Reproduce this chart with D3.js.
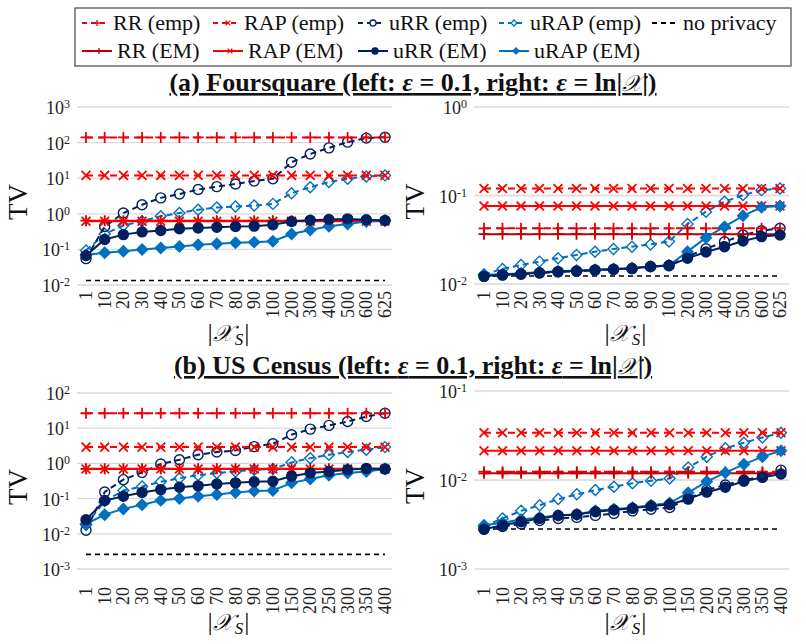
<!DOCTYPE html>
<html><head><meta charset="utf-8">
<script src="https://cdn.jsdelivr.net/npm/d3@7"></script>
<style>body{margin:0;background:#fff}svg{display:block;font-family:"Liberation Serif","DejaVu Serif",serif}</style>
</head><body>
<svg id="c" width="806" height="644"></svg>
<script>
// ---------- data ----------
const catsFS = ["1","10","20","30","40","50","60","70","80","90","100","200","300","400","500","600","625"];
const catsUS = ["1","10","20","30","40","50","60","70","80","90","100","150","200","250","300","350","400"];

// Foursquare, eps = 0.1
const fsL_RR_emp  = [140,140,140,140,140,140,140,140,140,140,140,140,140,140,140,140,140];
const fsL_RAP_emp = [12,12,12,12,12,12,12,12,12,12,12,12,12,12,12,12,12];
const fsL_RR_EM   = [0.64,0.64,0.64,0.64,0.64,0.64,0.64,0.64,0.64,0.64,0.64,0.64,0.64,0.64,0.64,0.64,0.64];
const fsL_RAP_EM  = [0.62,0.62,0.62,0.62,0.62,0.62,0.62,0.62,0.62,0.62,0.62,0.62,0.62,0.62,0.62,0.62,0.62];
const fsL_uRR_emp = [0.055,0.44,1.05,1.8,2.8,3.6,4.8,5.8,6.9,8.3,9.6,28,48,71,103,134,142];
const fsL_uRAP_emp= [0.093,0.27,0.47,0.62,0.86,1.05,1.3,1.5,1.6,1.7,1.9,3.8,5.6,7.8,9.6,11.2,12];
const fsL_uRR_EM  = [0.067,0.19,0.26,0.31,0.34,0.38,0.40,0.42,0.44,0.45,0.49,0.61,0.66,0.69,0.72,0.68,0.65];
const fsL_uRAP_EM = [0.07,0.08,0.089,0.1,0.11,0.12,0.135,0.145,0.154,0.16,0.17,0.27,0.35,0.45,0.52,0.61,0.65];
const fsL_noPriv  = [0.0134,0.0134,0.0134,0.0134,0.0134,0.0134,0.0134,0.0134,0.0134,0.0134,0.0134,0.0134,0.0134,0.0134,0.0134,0.0134,0.0134];

// Foursquare, eps = ln|X|
const fsR_RR_emp  = [0.0426,0.0426,0.0426,0.0426,0.0426,0.0426,0.0426,0.0426,0.0426,0.0426,0.0426,0.0426,0.0426,0.0426,0.0426,0.0426,0.0426];
const fsR_RAP_emp = [0.12,0.12,0.12,0.12,0.12,0.12,0.12,0.12,0.12,0.12,0.12,0.12,0.12,0.12,0.12,0.12,0.12];
const fsR_RR_EM   = [0.0366,0.0366,0.0366,0.0366,0.0366,0.0366,0.0366,0.0366,0.0366,0.0366,0.0366,0.0366,0.0366,0.0366,0.0366,0.0366,0.0366];
const fsR_RAP_EM  = [0.076,0.076,0.076,0.076,0.076,0.076,0.076,0.076,0.076,0.076,0.076,0.076,0.076,0.076,0.076,0.076,0.076];
const fsR_uRR_emp = [0.0122,0.0126,0.0129,0.0133,0.0137,0.0139,0.0143,0.0146,0.0149,0.0157,0.0161,0.0204,0.025,0.030,0.0358,0.040,0.0426];
const fsR_uRAP_emp= [0.0128,0.0148,0.0164,0.0179,0.0195,0.0213,0.0232,0.0248,0.0264,0.028,0.0302,0.0476,0.0656,0.085,0.101,0.115,0.12];
const fsR_uRR_EM  = [0.0122,0.0127,0.013,0.0134,0.0138,0.014,0.0144,0.0147,0.015,0.0158,0.0162,0.0195,0.023,0.0264,0.0306,0.0343,0.0358];
const fsR_uRAP_EM = [0.0127,0.0129,0.0132,0.0136,0.0139,0.0142,0.0145,0.0148,0.0152,0.0158,0.0163,0.0232,0.0334,0.0444,0.0589,0.0735,0.076];
const fsR_noPriv  = [0.0123,0.0123,0.0123,0.0123,0.0123,0.0123,0.0123,0.0123,0.0123,0.0123,0.0123,0.0123,0.0123,0.0123,0.0123,0.0123,0.0123];

// US Census, eps = 0.1
const usL_RR_emp  = [26.6,26.6,26.6,26.6,26.6,26.6,26.6,26.6,26.6,26.6,26.6,26.6,26.6,26.6,26.6,26.6,26.6];
const usL_RAP_emp = [2.9,2.9,2.9,2.9,2.9,2.9,2.9,2.9,2.9,2.9,2.9,2.9,2.9,2.9,2.9,2.9,2.9];
const usL_RR_EM   = [0.70,0.70,0.70,0.70,0.70,0.70,0.70,0.70,0.70,0.70,0.70,0.70,0.70,0.70,0.70,0.70,0.70];
const usL_RAP_EM  = [0.69,0.69,0.69,0.69,0.69,0.69,0.69,0.69,0.69,0.69,0.69,0.69,0.69,0.69,0.69,0.69,0.69];
const usL_uRR_emp = [0.0126,0.154,0.345,0.556,0.96,1.27,1.76,2.1,2.33,3.0,3.6,6.5,9.4,12,15.5,21.4,26.6];
const usL_uRAP_emp= [0.018,0.085,0.17,0.22,0.3,0.38,0.46,0.53,0.59,0.66,0.69,1.07,1.41,1.76,2.1,2.45,2.9];
const usL_uRR_EM  = [0.025,0.088,0.116,0.15,0.18,0.21,0.23,0.26,0.28,0.30,0.31,0.43,0.53,0.59,0.66,0.72,0.69];
const usL_uRAP_EM = [0.019,0.035,0.051,0.067,0.089,0.1,0.116,0.13,0.15,0.165,0.17,0.28,0.36,0.46,0.53,0.59,0.69];
const usL_noPriv  = [0.0026,0.0026,0.0026,0.0026,0.0026,0.0026,0.0026,0.0026,0.0026,0.0026,0.0026,0.0026,0.0026,0.0026,0.0026,0.0026,0.0026];

// US Census, eps = ln|X|
const usR_RR_emp  = [0.0124,0.0124,0.0124,0.0124,0.0124,0.0124,0.0124,0.0124,0.0124,0.0124,0.0124,0.0124,0.0124,0.0124,0.0124,0.0124,0.0124];
const usR_RAP_emp = [0.034,0.034,0.034,0.034,0.034,0.034,0.034,0.034,0.034,0.034,0.034,0.034,0.034,0.034,0.034,0.034,0.034];
const usR_RR_EM   = [0.0119,0.0119,0.0119,0.0119,0.0119,0.0119,0.0119,0.0119,0.0119,0.0119,0.0119,0.0119,0.0119,0.0119,0.0119,0.0119,0.0119];
const usR_RAP_EM  = [0.0213,0.0213,0.0213,0.0213,0.0213,0.0213,0.0213,0.0213,0.0213,0.0213,0.0213,0.0213,0.0213,0.0213,0.0213,0.0213,0.0213];
const usR_uRR_emp = [0.0028,0.003,0.0032,0.0035,0.0037,0.0038,0.004,0.0042,0.0045,0.0047,0.0049,0.0062,0.0077,0.0088,0.01,0.0109,0.0129];
const usR_uRAP_emp= [0.003,0.0037,0.0045,0.0052,0.0061,0.0069,0.0077,0.0084,0.0092,0.0098,0.0104,0.0138,0.0183,0.0227,0.0262,0.030,0.034];
const usR_uRR_EM  = [0.0028,0.0031,0.0034,0.0037,0.004,0.0041,0.0044,0.0046,0.0048,0.0051,0.0053,0.0061,0.0073,0.0083,0.0097,0.0107,0.0117];
const usR_uRAP_EM = [0.0031,0.0033,0.0036,0.0038,0.004,0.0041,0.0045,0.0047,0.0049,0.0052,0.0055,0.0072,0.0096,0.0121,0.015,0.0183,0.0213];
const usR_noPriv  = [0.00282,0.00282,0.00282,0.00282,0.00282,0.00282,0.00282,0.00282,0.00282,0.00282,0.00282,0.00282,0.00282,0.00282,0.00282,0.00282,0.00282];

const seriesNames = ["RR (emp)","RAP (emp)","uRR (emp)","uRAP (emp)","no privacy","RR (EM)","RAP (EM)","uRR (EM)","uRAP (EM)"];
const yTickExpFS_L = [3,2,1,0,-1,-2];
const yTickExpFS_R = [0,-1,-2];
const yTickExpUS_L = [2,1,0,-1,-2,-3];
const yTickExpUS_R = [-1,-2,-3];

// ---------- styles ----------
const NAVY="#002060", BLUE="#0070c0", RED="#ff0000", DRED="#c00000";
const style = {
  "RR (emp)":  {color:"#e8000b", dash:"7,5", marker:"plus", fill:false},
  "RAP (emp)": {color:RED, dash:"7,5", marker:"x", fill:false},
  "uRR (emp)": {color:NAVY, dash:"6,4", marker:"circle", fill:false},
  "uRAP (emp)":{color:BLUE, dash:"6,4", marker:"diamond", fill:false},
  "no privacy":{color:"#000", dash:"5,4", marker:null},
  "RR (EM)":   {color:DRED, dash:null, marker:"plus", fill:false},
  "RAP (EM)":  {color:RED, dash:null, marker:"x", fill:false},
  "uRR (EM)":  {color:NAVY, dash:null, marker:"circle", fill:true},
  "uRAP (EM)": {color:BLUE, dash:null, marker:"diamond", fill:true}
};
function markerPath(type, s){
  if(type==="plus") return `M${-s},0H${s}M0,${-s}V${s}`;
  if(type==="x") { const k=s*0.8; return `M${-k},${-k}L${k},${k}M${-k},${k}L${k},${-k}`; }
  if(type==="diamond") return `M0,${-s}L${s},0L0,${s}L${-s},0Z`;
  if(type==="circle") return `M${s},0A${s},${s},0,1,1,${-s},0A${s},${s},0,1,1,${s},0Z`;
  return "";
}
const markerSize = {plus:5.5, x:5.5, circle:5, diamond:5.5};

const svg = d3.select("#c");
const FONT = '"Liberation Serif","DejaVu Serif",serif';
const MATHFONT = '"DejaVu Serif","DejaVu Sans","Noto Sans",serif';

// ---------- panels ----------
const panels = [
  {cats:catsFS, exps:yTickExpFS_L, x0:77, x1:392, px0:86, px1:385, yTop:107, yBot:285, tickY:291, labY:341,
   data:{"RR (emp)":fsL_RR_emp,"RAP (emp)":fsL_RAP_emp,"uRR (emp)":fsL_uRR_emp,"uRAP (emp)":fsL_uRAP_emp,"no privacy":fsL_noPriv,"RR (EM)":fsL_RR_EM,"RAP (EM)":fsL_RAP_EM,"uRR (EM)":fsL_uRR_EM,"uRAP (EM)":fsL_uRAP_EM}},
  {cats:catsFS, exps:yTickExpFS_R, x0:474, x1:789, px0:484, px1:780, yTop:107, yBot:284, tickY:291, labY:341,
   data:{"RR (emp)":fsR_RR_emp,"RAP (emp)":fsR_RAP_emp,"uRR (emp)":fsR_uRR_emp,"uRAP (emp)":fsR_uRAP_emp,"no privacy":fsR_noPriv,"RR (EM)":fsR_RR_EM,"RAP (EM)":fsR_RAP_EM,"uRR (EM)":fsR_uRR_EM,"uRAP (EM)":fsR_uRAP_EM}},
  {cats:catsUS, exps:yTickExpUS_L, x0:77, x1:392, px0:86, px1:385, yTop:393, yBot:569, tickY:587, labY:630,
   data:{"RR (emp)":usL_RR_emp,"RAP (emp)":usL_RAP_emp,"uRR (emp)":usL_uRR_emp,"uRAP (emp)":usL_uRAP_emp,"no privacy":usL_noPriv,"RR (EM)":usL_RR_EM,"RAP (EM)":usL_RAP_EM,"uRR (EM)":usL_uRR_EM,"uRAP (EM)":usL_uRAP_EM}},
  {cats:catsUS, exps:yTickExpUS_R, x0:474, x1:789, px0:484, px1:781, yTop:391, yBot:569, tickY:587, labY:630,
   data:{"RR (emp)":usR_RR_emp,"RAP (emp)":usR_RAP_emp,"uRR (emp)":usR_uRR_emp,"uRAP (emp)":usR_uRAP_emp,"no privacy":usR_noPriv,"RR (EM)":usR_RR_EM,"RAP (EM)":usR_RAP_EM,"uRR (EM)":usR_uRR_EM,"uRAP (EM)":usR_uRAP_EM}}
];

const drawOrder = ["no privacy","uRAP (emp)","uRR (emp)","RR (emp)","RAP (emp)","RR (EM)","RAP (EM)","uRAP (EM)","uRR (EM)"];

panels.forEach(p=>{
  const maxE = d3.max(p.exps), minE = d3.min(p.exps);
  const y = d3.scaleLog().domain([Math.pow(10,minE), Math.pow(10,maxE)]).range([p.yBot, p.yTop]);
  const x = d3.scalePoint().domain(p.cats).range([p.px0, p.px1]);
  const g = svg.append("g");
  // gridlines
  g.selectAll("line.grid").data(p.exps).join("line")
    .attr("x1",p.x0).attr("x2",p.x1)
    .attr("y1",d=>y(Math.pow(10,d))).attr("y2",d=>y(Math.pow(10,d)))
    .attr("stroke","#d9d9d9").attr("stroke-width",1.3);
  // y tick labels
  const yt = g.selectAll("text.yt").data(p.exps).join("text")
    .attr("x",p.x0-7).attr("y",d=>y(Math.pow(10,d))+7)
    .attr("text-anchor","end").attr("font-family",FONT).attr("font-size",18).attr("fill","#222");
  yt.append("tspan").text("10");
  yt.append("tspan").attr("dy",-6).attr("font-size",12).text(d=>String(d));
  // TV label
  g.append("text").attr("transform",`translate(${p.x0-50},${(p.yTop+p.yBot)/2+6}) rotate(-90)`)
    .attr("text-anchor","middle").attr("font-family",FONT).attr("font-size",27).attr("fill","#111").text("TV");
  // x tick labels
  g.selectAll("text.xt").data(p.cats).join("text")
    .attr("transform",d=>`translate(${x(d)+6},${p.tickY}) rotate(-90)`)
    .attr("text-anchor","end").attr("font-family",FONT).attr("font-size",18).attr("fill","#222").text(d=>d);
  // x axis label
  const xl = g.append("text").attr("x",(p.x0+p.x1)/2-6).attr("y",p.labY)
    .attr("text-anchor","middle").attr("font-family",FONT).attr("font-size",26).attr("fill","#111");
  xl.append("tspan").text("|");
  xl.append("tspan").attr("font-family",MATHFONT).attr("font-style","italic").attr("font-size",23).text("\uD835\uDCB3");
  xl.append("tspan").attr("font-style","italic").attr("font-size",17).attr("dx",2).attr("dy",4).text("S");
  xl.append("tspan").attr("dy",-4).attr("dx",1).text("|");
  // series
  drawOrder.forEach(name=>{
    const st = style[name], vals = p.data[name];
    const pts = p.cats.map((c,i)=>[x(c), y(vals[i])]);
    const line = d3.line();
    g.append("path").attr("d",line(pts)).attr("fill","none").attr("stroke",st.color)
      .attr("stroke-width",name==="no privacy"?1.6:2).attr("stroke-dasharray",st.dash);
    if(st.marker){
      const s = markerSize[st.marker];
      g.selectAll(null).data(pts).join("path")
        .attr("transform",d=>`translate(${d[0]},${d[1]})`)
        .attr("d",markerPath(st.marker,s))
        .attr("fill",st.fill?st.color:"none")
        .attr("stroke",st.color).attr("stroke-width",st.marker==="plus"||st.marker==="x"?1.8:1.4);
    }
  });
});

// ---------- titles ----------
function title(yPos, parts){
  const t = svg.append("text").attr("x",413).attr("y",yPos).attr("text-anchor","middle")
    .attr("font-family",FONT).attr("font-weight","bold").attr("font-size",26).attr("fill","#111")
    .attr("text-decoration","underline");
  parts.forEach(pt=>{
    const ts = t.append("tspan").text(pt.t);
    if(pt.i) ts.attr("font-style","italic");
    if(pt.m) ts.attr("font-family",MATHFONT).attr("font-style","italic").attr("font-weight","normal").attr("font-size",23);
  });
}
title(91, [{t:"(a) Foursquare (left: "},{t:"ε",i:1},{t:" = 0.1, right: "},{t:"ε",i:1},{t:" = ln|"},{t:"\uD835\uDCB3",m:1},{t:"|)"}]);
title(374, [{t:"(b) US Census (left: "},{t:"ε",i:1},{t:" = 0.1, right: "},{t:"ε",i:1},{t:" = ln|"},{t:"\uD835\uDCB3",m:1},{t:"|)"}]);

// ---------- legend ----------
svg.append("rect").attr("x",75).attr("y",8).attr("width",716).attr("height",58)
  .attr("fill","#fff").attr("stroke","#555").attr("stroke-width",1.3);
const legCols = [82,213,358,499,652];
const legendItems = seriesNames.map((n,i)=>({name:n, col: i<5?i:i-5, row: i<5?0:1}));
legendItems.forEach(it=>{
  const st = style[it.name];
  const lx = legCols[it.col], ly = it.row===0?23:51;
  const w = it.row===0?26:30;
  svg.append("line").attr("x1",lx).attr("x2",lx+w).attr("y1",ly).attr("y2",ly)
    .attr("stroke",st.color).attr("stroke-width",2).attr("stroke-dasharray",st.dash?"5,4":null);
  if(st.marker){
    svg.append("path").attr("transform",`translate(${lx+w/2+2},${ly})`)
      .attr("d",markerPath(st.marker,3)).attr("fill",st.fill?st.color:"#fff")
      .attr("stroke",st.color).attr("stroke-width",1.3);
  }
  svg.append("text").attr("x",lx+w+5).attr("y",ly+7).attr("font-family",FONT).attr("font-size",22)
    .attr("fill","#111").text(it.name);
});
</script>
</body></html>
